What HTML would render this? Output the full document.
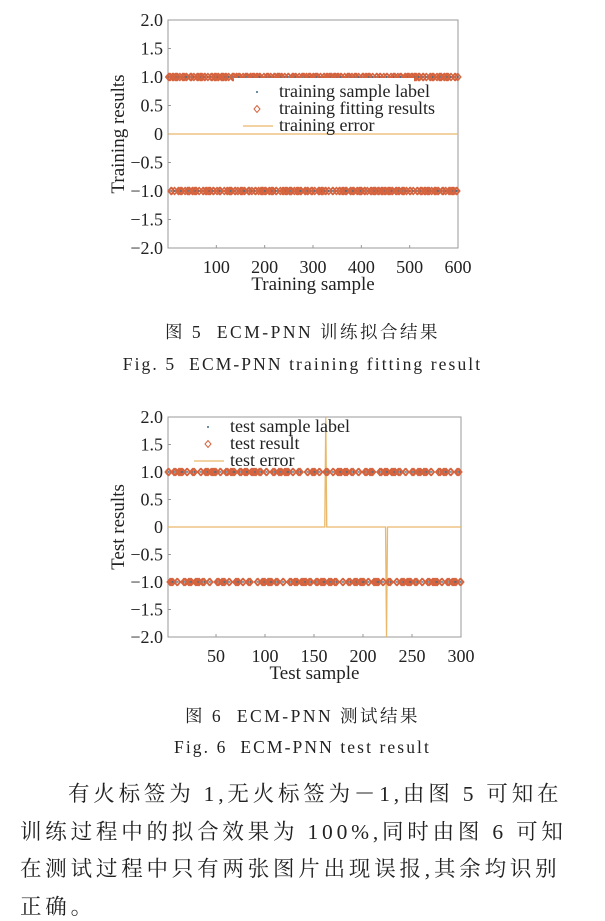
<!DOCTYPE html>
<html><head><meta charset="utf-8"><style>
html,body{margin:0;padding:0;background:#fff;}
body{width:605px;height:918px;position:relative;overflow:hidden;font-family:"Liberation Serif","Noto Serif CJK SC",serif;color:#222;}
.cap{position:absolute;left:0;width:605px;text-align:center;font-size:17.5px;}
.p{position:absolute;font-size:21.5px;letter-spacing:3.8px;white-space:nowrap;}
svg text{font-family:"Liberation Serif",serif;fill:#222;}
</style></head><body>
<svg id="c1" width="605" height="300" style="position:absolute;left:0;top:0"></svg>
<div class="cap" style="top:319px;letter-spacing:2.5px">图 5&nbsp;&nbsp;ECM-PNN 训练拟合结果</div>
<div class="cap" style="top:354px;letter-spacing:2.1px">Fig. 5&nbsp;&nbsp;ECM-PNN training fitting result</div>
<svg id="c2" width="605" height="300" style="position:absolute;left:0;top:400px"></svg>
<div class="cap" style="top:703px;letter-spacing:2.5px">图 6&nbsp;&nbsp;ECM-PNN 测试结果</div>
<div class="cap" style="top:737px;letter-spacing:2.1px">Fig. 6&nbsp;&nbsp;ECM-PNN test result</div>
<div class="p" style="left:68px;top:777px">有火标签为 1,无火标签为－1,由图 5 可知在</div>
<div class="p" style="left:20px;top:815px">训练过程中的拟合效果为 100%,同时由图 6 可知</div>
<div class="p" style="left:20px;top:852px">在测试过程中只有两张图片出现误报,其余均识别</div>
<div class="p" style="left:20px;top:890px">正确。</div>
<script>
// chart 1 data: alternating run lengths of labels, starting with +1
const trainRunLengths = [5,3,4,2,6,3,2,4,5,2,3,6,4,3,2,5,4,2,6,3,3,4,2,5,4,3,5,2,3,4,6,2,4,3,2,6,5,3,3,2,4,5,2,3,6,4,3,2,5,3,4,2,3,6,2,4,5,3,2,5,4,3,6,2,3,4,2,5,3,6,4,2,3,5,2,4,6,3,2,3,5,4,3,2,6,4,2,5,3,3,4,2,6,3,5,2,4,3,3,5,2,4,6,3,2,4,5,3,2,6,4,3,3,2,5,4,2,6,3,4,3,5,2,4,3,6,2,3,5,4,2,3,4,6,3,2,5,3,4,2,6,3,4];
const trainN = 600;
const trainYTicks = [2.0,1.5,1.0,0.5,0,-0.5,-1.0,-1.5,-2.0];
const trainXTicks = [100,200,300,400,500,600];
// chart 2 data
const testRunLengths = [2,4,3,2,5,3,2,4,3,5,2,3,4,2,6,3,2,4,3,2,5,4,3,2,4,3,6,2,3,4,2,5,3,3,4,2,5,3,2,4,3,6,2,3,4,3,2,5,3,4,2,3,5,2,4,3,3,4,2,5,3,2,4,6,3,2,4,3,5,2,3,4,2,5,3,3,4,2,4,3,2,6,3];
const testN = 300;
const testErrSamples = [162,224];
const testErrValues = [2,-2];
const testYTicks = [2.0,1.5,1.0,0.5,0,-0.5,-1.0,-1.5,-2.0];
const testXTicks = [50,100,150,200,250,300];
const NS='http://www.w3.org/2000/svg';
function el(svg,tag,attrs,text){const e=document.createElementNS(NS,tag);for(const k in attrs)e.setAttribute(k,attrs[k]);if(text!==undefined)e.textContent=text;svg.appendChild(e);return e;}
function fmt(v){if(v===0)return '0';return (v<0?'\u2212':'')+Math.abs(v).toFixed(1);}
function labels(n,runs){const a=[];let s=1,ri=0;while(a.length<n){const L=runs[ri%runs.length];for(let k=0;k<L&&a.length<n;k++)a.push(s);s=-s;ri++;}return a;}
function draw(svg,o){
  const X=v=>o.x0+(v-o.xmin)/(o.xmax-o.xmin)*(o.x1-o.x0);
  const Y=v=>o.y1-(v+2)/4*(o.y1-o.y0);
  const box=el(svg,'rect',{x:o.x0,y:o.y0,width:o.x1-o.x0,height:o.y1-o.y0,fill:'none',stroke:'#999','stroke-width':1});
  
  o.yt.forEach(v=>{el(svg,'line',{x1:o.x0,x2:o.x0+3,y1:Y(v),y2:Y(v),stroke:'#999'});
    const t=el(svg,'text',{x:o.x0-5,y:Y(v)+6,'text-anchor':'end','font-size':18},fmt(v));
    });
  o.xt.forEach(v=>{el(svg,'line',{x1:X(v),x2:X(v),y1:o.y1,y2:o.y1-3,stroke:'#999'});
    const t=el(svg,'text',{x:X(v),y:o.y1+25,'text-anchor':'middle','font-size':18},String(v));
    });
  const xl=el(svg,'text',{x:(o.x0+o.x1)/2,y:o.y1+42,'text-anchor':'middle','font-size':19},o.xlab);
  
  const yc=(o.y0+o.y1)/2;
  const yl=el(svg,'text',{x:124,y:yc,'text-anchor':'middle','font-size':19,transform:'rotate(-90 124 '+yc+')'},o.ylab);
  
  const err=new Array(o.n).fill(0);o.errS.forEach((s,i)=>err[s-1]=o.errV[i]);
  let d='';err.forEach((v,i)=>{d+=(i?'L':'M')+X(i+1).toFixed(2)+' '+Y(v).toFixed(2);});
  const ln=el(svg,'path',{d:d,fill:'none',stroke:'#e9b86a','stroke-width':1.3});
  
  const lab=labels(o.n,o.runs);
  lab.forEach((v,i)=>{const cx=X(i+1),cy=Y(v);
    const m=el(svg,'path',{d:`M${cx-3} ${cy}L${cx} ${cy-3.5}L${cx+3} ${cy}L${cx} ${cy+3.5}Z`,fill:'none',stroke:'#d5643f','stroke-width':1.1});
    
    const dt=el(svg,'circle',{cx:cx,cy:cy,r:0.7,fill:'#3a6b8a'});
    });
  const L=o.leg;
  if(L.w)el(svg,'rect',{x:L.x-45,y:L.y-14,width:L.w,height:54,fill:'#fff'});
  el(svg,'circle',{cx:L.x-22,cy:L.y,r:1,fill:'#3a6b8a'});
  el(svg,'path',{d:`M${L.x-25} ${L.y+17}L${L.x-22} ${L.y+13.5}L${L.x-19} ${L.y+17}L${L.x-22} ${L.y+20.5}Z`,fill:'none',stroke:'#d5643f'});
  el(svg,'line',{x1:L.x-36,x2:L.x-6,y1:L.y+34,y2:L.y+34,stroke:'#e9b86a','stroke-width':1.3});
  o.legT.forEach((t,i)=>{const e=el(svg,'text',{x:L.x,y:L.y+5+i*17,'font-size':18},t);
    });
}
draw(document.getElementById('c1'),{x0:168,x1:458,y0:20,y1:248,xmin:0,xmax:600,n:trainN,runs:trainRunLengths,errS:[],errV:[],
  yt:trainYTicks,xt:trainXTicks,xlab:'Training sample',ylab:'Training results',
  leg:{x:279,y:92,w:180},legT:['training sample label','training fitting results','training error']});
draw(document.getElementById('c2'),{x0:168,x1:461,y0:17,y1:237,xmin:1,xmax:300,n:testN,runs:testRunLengths,errS:testErrSamples,errV:testErrValues,
  yt:testYTicks,xt:testXTicks,xlab:'Test sample',ylab:'Test results',
  leg:{x:230,y:27,w:0},legT:['test sample label','test result','test error']});
</script>
</body></html>
